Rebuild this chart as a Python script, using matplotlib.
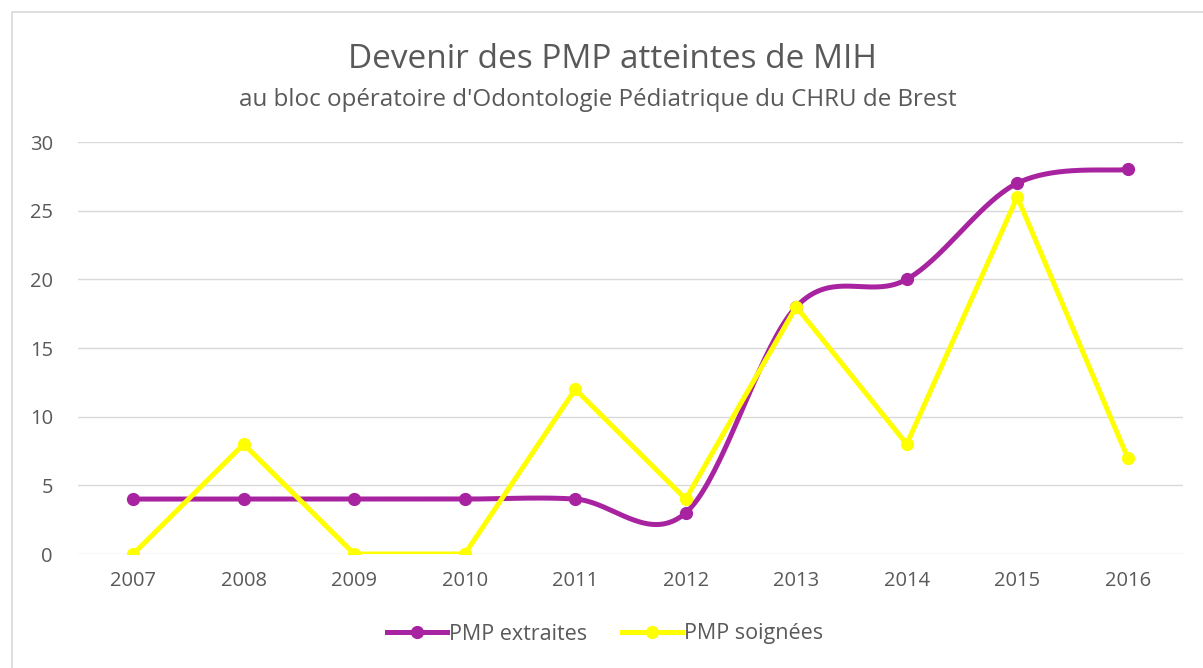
import numpy as np
import matplotlib
matplotlib.use("Agg")
import matplotlib.pyplot as plt
from matplotlib.patches import Rectangle

# Data
years = ["2007", "2008", "2009", "2010", "2011", "2012", "2013", "2014", "2015", "2016"]
pmp_extraites = [4, 4, 4, 4, 4, 3, 18, 20, 27, 28]
pmp_soignees = [0, 8, 0, 0, 12, 4, 18, 8, 26, 7]
y_ticks = [0, 5, 10, 15, 20, 25, 30]

title = "Devenir des PMP atteintes de MIH"
subtitle = "au bloc opératoire d'Odontologie Pédiatrique du CHRU de Brest"

PURPLE = "#A8239F"
YELLOW = "#FFFF00"
TEXT = "#595959"
GRID = "#D9D9D9"

plt.rcParams["font.family"] = ["Open Sans", "DejaVu Sans"]


def smooth_curve(xs, ys, n=40):
    """Cubic Bezier smoothing through every point (spreadsheet-style)."""
    xs = np.asarray(xs, float)
    ys = np.asarray(ys, float)
    px = np.concatenate([[xs[0]], xs, [xs[-1]]])
    py = np.concatenate([[ys[0]], ys, [ys[-1]]])
    out_x, out_y = [], []
    t = np.linspace(0, 1, n)
    for i in range(1, len(px) - 2):
        p0 = np.array([px[i - 1], py[i - 1]])
        p1 = np.array([px[i], py[i]])
        p2 = np.array([px[i + 1], py[i + 1]])
        p3 = np.array([px[i + 2], py[i + 2]])
        c1 = p1 + (p2 - p0) / 6.0
        c2 = p2 - (p3 - p1) / 6.0
        b = ((1 - t) ** 3)[:, None] * p1 + (3 * (1 - t) ** 2 * t)[:, None] * c1 \
            + (3 * (1 - t) * t ** 2)[:, None] * c2 + (t ** 3)[:, None] * p2
        out_x.extend(b[:, 0])
        out_y.extend(b[:, 1])
    return np.array(out_x), np.array(out_y)


W, H = 1203, 668
fig = plt.figure(figsize=(W / 100, H / 100), dpi=100)
fig.patch.set_facecolor("white")

# chart-area frame
fig.patches.append(Rectangle((12 / W, -0.05), 1.1, (H - 12) / H + 0.05,
                             transform=fig.transFigure, fill=False,
                             edgecolor="#D9D9D9", linewidth=1.2))

left, right = 78 / W, 1183 / W
bottom, top = 1 - 554 / H, 1 - 142 / H
ax = fig.add_axes([left, bottom, right - left, top - bottom])

x = np.arange(len(years))
ax.set_xlim(-0.5, len(years) - 0.5)
ax.set_ylim(0, 30)

for v in y_ticks:
    ax.axhline(v, color=GRID, linewidth=1.0, zorder=0)

sx, sy = smooth_curve(x, pmp_extraites)
ax.plot(sx, sy, color=PURPLE, linewidth=3.6, solid_capstyle="round", zorder=2)
ax.plot(x, pmp_extraites, linestyle="none", marker="o", markersize=8.5,
        color=PURPLE, zorder=2)
ax.plot(x, pmp_soignees, color=YELLOW, linewidth=3.6, marker="o", markersize=8.5,
        solid_joinstyle="round", zorder=3)

ax.set_yticks(y_ticks)
ax.set_xticks(x)
ax.set_xticklabels(years)
ax.tick_params(length=0, labelsize=14.5, labelcolor=TEXT)
ax.tick_params(axis="y", pad=18)
ax.tick_params(axis="x", pad=12)
for s in ax.spines.values():
    s.set_visible(False)
ax.set_facecolor("none")

fig.text(613 / W, 1 - 60 / H, title, ha="center", va="center",
         fontsize=24, color=TEXT)
fig.text(598 / W, 1 - 100 / H, subtitle, ha="center", va="center",
         fontsize=17.4, color=TEXT)

# legend
handles = [
    plt.Line2D([], [], color=PURPLE, linewidth=3.6, marker="o", markersize=8.5),
    plt.Line2D([], [], color=YELLOW, linewidth=3.6, marker="o", markersize=8.5),
]
fig.legend(handles, ["PMP extraites", "PMP soignées"], loc="center",
           bbox_to_anchor=(605 / W, 1 - 634 / H), ncol=2, frameon=False,
           fontsize=15.5, labelcolor=TEXT, handlelength=2.8, handletextpad=0.1,
           columnspacing=1.6)

fig.savefig("out.png", dpi=100, facecolor="white")
